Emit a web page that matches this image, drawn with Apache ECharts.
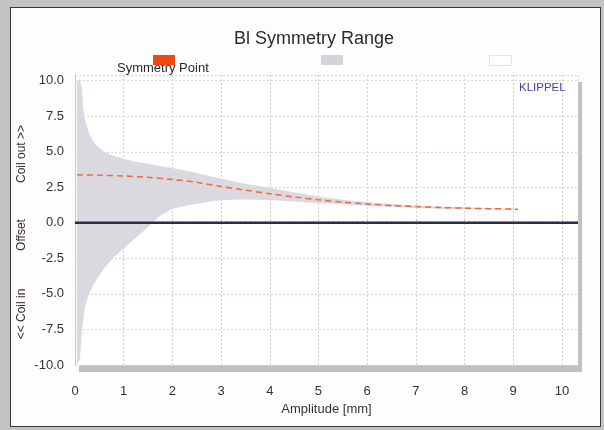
<!DOCTYPE html>
<html>
<head>
<meta charset="utf-8">
<script src="https://cdn.jsdelivr.net/npm/echarts@6/dist/echarts.min.js"></script>
<style>
  html, body { margin:0; padding:0; background:#c3c2c4; }
  #wrap { position:relative; width:604px; height:430px; overflow:hidden; background:#c3c2c4; }
  #panel { position:absolute; left:10px; top:7px; width:591px; height:420px; background:#fdfdfd; border:1.5px solid #3a3a3a; box-sizing:border-box; }
  #chart { position:absolute; left:0; top:0; width:604px; height:430px; }
</style>
</head>
<body>
<div id="wrap"><div id="panel"></div><div id="chart"></div></div>
<script>
// Amplitude samples for the symmetry range band
const rangeX     = [0.04, 0.1, 0.14, 0.17, 0.2, 0.25, 0.3, 0.4, 0.5, 0.6, 0.8, 1.0, 1.25, 1.5, 1.75, 2.0, 2.5, 3.0, 3.5, 4.0, 4.5, 5.0, 5.5, 6.0, 6.5, 7.0, 7.5, 8.0, 8.5, 9.0, 9.1];
const rangeUpper = [10, 10, 9.5, 8.1, 7.4, 6.7, 6.2, 5.6, 5.25, 5.0, 4.7, 4.5, 4.3, 4.15, 4.0, 3.85, 3.5, 3.1, 2.75, 2.45, 2.15, 1.85, 1.62, 1.45, 1.32, 1.22, 1.15, 1.1, 1.05, 1.0, 0.98];
const rangeLower = [-10, -9.6, -7.7, -6.8, -6.0, -5.4, -4.9, -4.2, -3.7, -3.2, -2.4, -1.8, -1.05, -0.3, 0.5, 1.0, 1.35, 1.6, 1.65, 1.6, 1.5, 1.4, 1.3, 1.2, 1.12, 1.05, 1.0, 0.97, 0.93, 0.9, 0.9];
// Symmetry point curve
const symX = [0.04, 0.5, 1.0, 1.5, 2.0, 2.5, 3.0, 3.5, 4.0, 4.5, 5.0, 5.5, 6.0, 6.5, 7.0, 7.5, 8.0, 8.5, 9.0, 9.1];
const symY = [3.38, 3.35, 3.3, 3.2, 3.05, 2.85, 2.55, 2.3, 2.05, 1.82, 1.62, 1.45, 1.33, 1.22, 1.15, 1.08, 1.03, 1.0, 0.97, 0.95];
// Offset zero line
const offsetX = [0, 10.33];
const offsetY = [0, 0];
// Axis settings
const xTicks = [0, 1, 2, 3, 4, 5, 6, 7, 8, 9, 10];
const yTicks = [-10, -7.5, -5, -2.5, 0, 2.5, 5, 7.5, 10];

const FONT = 'Liberation Sans, Arial, sans-serif';
const bandData = rangeX.map((x, i) => [x, rangeUpper[i], rangeLower[i]]);
const symData = symX.map((x, i) => [x, symY[i]]);
const offData = offsetX.map((x, i) => [x, offsetY[i]]);

function renderBand(params, api) {
  if (params.dataIndex !== 0) return null;
  const top = bandData.map(d => api.coord([d[0], d[1]]));
  const bot = bandData.map(d => api.coord([d[0], d[2]])).reverse();
  return {
    type: 'polygon',
    shape: { points: top.concat(bot) },
    style: { fill: '#dcd8e0', stroke: null }
  };
}

const chart = echarts.init(document.getElementById('chart'), null, { renderer: 'canvas' });
const option = {
  backgroundColor: 'transparent',
  animation: false,
  textStyle: { fontFamily: FONT },
  title: {
    text: 'Bl Symmetry Range',
    left: 309, top: 25, textAlign: 'center',
    textStyle: { fontFamily: FONT, fontSize: 18, fontWeight: 'normal', color: '#2b2b2b' }
  },
  legend: [
    { data: ['Symmetry Point'], left: 148, top: 50, itemWidth: 22, itemHeight: 10, icon: 'rect',
      selectedMode: false, formatter: () => '', itemStyle: { color: '#f0460f' } },
    { data: ['Symmetry Range'], left: 316, top: 50, itemWidth: 22, itemHeight: 10, icon: 'rect',
      selectedMode: false, formatter: () => '', itemStyle: { color: '#d6d2da', opacity: 1 } },
    { data: ['Offset'], left: 484, top: 50, itemWidth: 22, itemHeight: 10, icon: 'rect',
      selectedMode: false, formatter: () => '', itemStyle: { color: '#ffffff', borderColor: '#c8c8c8', borderWidth: 1, borderType: 'dotted' } }
  ],
  grid: {
    left: 75, right: 26, top: 75, bottom: 65,
    show: true, backgroundColor: '#ffffff', borderWidth: 0,
    shadowColor: '#c2bec6', shadowOffsetX: 4, shadowOffsetY: 7, shadowBlur: 0
  },
  xAxis: {
    type: 'value', min: 0, max: 10.33, interval: 1,
    name: 'Amplitude [mm]', nameLocation: 'middle', nameGap: 36,
    nameTextStyle: { fontFamily: FONT, fontSize: 13, color: '#333' },
    axisLine: { show: true, lineStyle: { color: '#b9b9c6', type: 'dotted', width: 1 } },
    axisTick: { show: true, inside: true, length: 4, lineStyle: { color: '#c4c4cc' } },
    minorTick: { show: true, splitNumber: 10, length: 2, lineStyle: { color: '#cfcfd6' } },
    axisLabel: {
      margin: 20, fontFamily: FONT, fontSize: 13, color: '#333',
      formatter: v => (xTicks.indexOf(v) >= 0 ? String(v) : '')
    },
    splitLine: { show: true, lineStyle: { color: '#cfcfcf', type: [2, 2], width: 1 } }
  },
  yAxis: {
    type: 'value', min: -10, max: 10.4, interval: 2.5,
    axisLine: { show: true, lineStyle: { color: '#c9c9c9', width: 1 } },
    axisTick: { show: false },
    axisLabel: {
      margin: 11, fontFamily: FONT, fontSize: 13, color: '#333',
      formatter: v => (yTicks.some(t => Math.abs(t - v) < 1e-6) ? v.toFixed(1) : '')
    },
    splitLine: { show: true, lineStyle: { color: '#e2d4c8', type: [2, 2], width: 1 } }
  },
  series: [
    { name: 'Symmetry Range', type: 'custom', data: bandData, renderItem: renderBand,
      encode: { x: 0, y: [1, 2] }, color: '#d6d2da', silent: true, z: 2 },
    { name: 'Offset', type: 'line', data: offData, showSymbol: false,
      lineStyle: { color: '#2e2b4a', width: 2.5 }, color: '#2e2b4a', z: 4 },
    { name: 'Symmetry Point', type: 'line', data: symData, showSymbol: false, smooth: 0.3,
      lineStyle: { color: '#ec6c3c', width: 1.5, type: [6, 4] }, color: '#f0460f', z: 5 }
  ],
  graphic: [
    { type: 'text', left: 117, top: 62, style: { text: 'Symmetry Point', font: '13px ' + FONT, fill: '#2b2b2b' } },
    { type: 'text', left: 519, top: 82, style: { text: 'KLIPPEL', font: '11.5px ' + FONT, fill: '#4b3c9c' } },
    { type: 'text', x: 22, y: 154, rotation: Math.PI / 2,
      style: { text: 'Coil out >>', font: '12px ' + FONT, fill: '#3a2c2c', align: 'center', verticalAlign: 'middle' } },
    { type: 'text', x: 22, y: 235, rotation: Math.PI / 2,
      style: { text: 'Offset', font: '12px ' + FONT, fill: '#3a2c2c', align: 'center', verticalAlign: 'middle' } },
    { type: 'text', x: 22, y: 314, rotation: Math.PI / 2,
      style: { text: '<< Coil in', font: '12px ' + FONT, fill: '#3a2c2c', align: 'center', verticalAlign: 'middle' } }
  ]
};
chart.setOption(option);
</script>
</body>
</html>
